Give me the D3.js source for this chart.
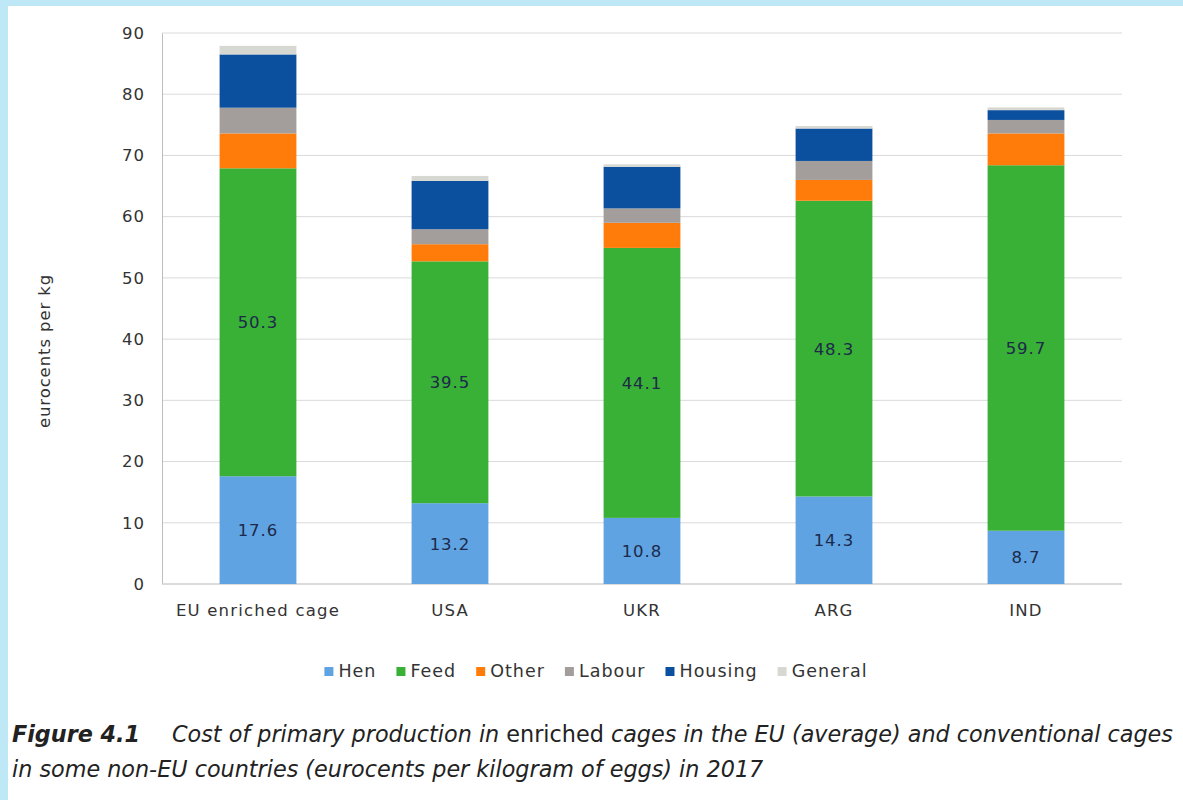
<!DOCTYPE html>
<html>
<head>
<meta charset="utf-8">
<script src="https://cdn.jsdelivr.net/npm/d3@7"></script>
<style>
    html, body { margin: 0; padding: 0; background: #fff; }
    svg { display: block; }
</style>
</head>
<body>
<div id="chart"></div>
<script>
// Data
const countries = ["EU enriched cage", "USA", "UKR", "ARG", "IND"];
const seriesNames = ["Hen", "Feed", "Other", "Labour", "Housing", "General"];
const hen     = [17.6, 13.2, 10.8, 14.3, 8.7];
const feed    = [50.3, 39.5, 44.1, 48.3, 59.7];
const other   = [5.7, 2.8, 4.1, 3.4, 5.2];
const labour  = [4.2, 2.45, 2.35, 3.1, 2.2];
const housing = [8.7, 7.9, 6.8, 5.3, 1.6];
const general = [1.4, 0.8, 0.4, 0.4, 0.45];
const yTicks = [0, 10, 20, 30, 40, 50, 60, 70, 80, 90];

const colors = ["#5fa3e3", "#39b036", "#ff7c0a", "#a39e9c", "#0b4f9f", "#d8d8d2"];

const W = 1183, H = 800;
const font = "'DejaVu Sans', Verdana, sans-serif";
const fs = "16.5px";
const ls = "1px";

const svg = d3.select("#chart").append("svg")
    .attr("width", W)
    .attr("height", H);

// light blue frame
svg.append("rect").attr("x", 0).attr("y", 0).attr("width", W).attr("height", H).attr("fill", "#bfe8f7");
svg.append("rect").attr("x", 8).attr("y", 6).attr("width", W - 8).attr("height", H - 6).attr("fill", "#fff");

// build table
const table = countries.map((c, i) => ({
    country: c,
    Hen: hen[i], Feed: feed[i], Other: other[i],
    Labour: labour[i], Housing: housing[i], General: general[i]
}));
const stacked = d3.stack().keys(seriesNames)(table);

// scales
const x = d3.scaleBand()
    .domain(countries)
    .range([162, 1122])
    .paddingInner(0.6)
    .paddingOuter(0.3);

const y = d3.scaleLinear()
    .domain([0, 90])
    .range([584, 33]);

const color = d3.scaleOrdinal().domain(seriesNames).range(colors);

// gridlines
svg.append("g")
    .selectAll("line")
    .data(yTicks.filter(t => t > 0))
    .enter()
    .append("line")
    .attr("x1", 162).attr("x2", 1122)
    .attr("y1", d => y(d)).attr("y2", d => y(d))
    .attr("stroke", "#dadada")
    .attr("stroke-width", 1);

// y axis
const yAxis = svg.append("g")
    .attr("transform", "translate(162,0)")
    .call(d3.axisLeft(y).tickValues(yTicks).tickSize(0).tickPadding(17));
yAxis.select(".domain").attr("stroke", "#bdbdbd");
yAxis.selectAll("text")
    .style("font-family", font)
    .style("font-size", fs)
    .style("letter-spacing", ls)
    .attr("fill", "#333");

// baseline
svg.append("line")
    .attr("x1", 162).attr("x2", 1122)
    .attr("y1", y(0)).attr("y2", y(0))
    .attr("stroke", "#cfcfcf")
    .attr("stroke-width", 1.5);

// bars
svg.append("g")
    .selectAll("g")
    .data(stacked)
    .enter()
    .append("g")
    .attr("fill", d => color(d.key))
    .selectAll("rect")
    .data(d => d)
    .enter()
    .append("rect")
    .attr("x", d => x(d.data.country))
    .attr("y", d => y(d[1]))
    .attr("width", x.bandwidth())
    .attr("height", d => y(d[0]) - y(d[1]));

// data labels (Hen and Feed)
stacked.filter(s => s.key === "Hen" || s.key === "Feed").forEach(s => {
    svg.append("g")
        .selectAll("text")
        .data(s)
        .enter()
        .append("text")
        .attr("x", d => x(d.data.country) + x.bandwidth() / 2)
        .attr("y", d => y((d[0] + d[1]) / 2) + 6)
        .attr("text-anchor", "middle")
        .style("font-family", font)
        .style("font-size", fs)
        .style("letter-spacing", ls)
        .attr("fill", "#1d2a4a")
        .text(d => d.data[s.key].toFixed(1));
});

// x labels
svg.append("g")
    .selectAll("text")
    .data(countries)
    .enter()
    .append("text")
    .attr("x", d => x(d) + x.bandwidth() / 2)
    .attr("y", 616)
    .attr("text-anchor", "middle")
    .style("font-family", font)
    .style("font-size", fs)
    .style("letter-spacing", "1.2px")
    .attr("fill", "#333")
    .text(d => d);

// y title
svg.append("text")
    .attr("transform", "translate(50,351) rotate(-90)")
    .attr("text-anchor", "middle")
    .style("font-family", font)
    .style("font-size", fs)
    .style("letter-spacing", "0.9px")
    .attr("fill", "#333")
    .text("eurocents per kg");

// legend
const legend = svg.append("g");
let lx = 0;
seriesNames.forEach((name, i) => {
    const item = legend.append("g").attr("transform", `translate(${lx},0)`);
    item.append("rect").attr("x", 0).attr("y", -10).attr("width", 9).attr("height", 9).attr("fill", colors[i]);
    const t = item.append("text")
        .attr("x", 14)
        .attr("y", 0)
        .style("font-family", font)
        .style("font-size", "17.5px")
        .style("letter-spacing", "1px")
        .attr("fill", "#333")
        .text(name);
    lx += 14 + t.node().getComputedTextLength() + 20;
});
lx -= 20;
legend.attr("transform", `translate(${596 - lx / 2},677)`);

// caption
const cap1 = svg.append("text")
    .attr("x", 12)
    .attr("y", 742)
    .style("font-family", font)
    .style("font-size", "22.3px")
    .attr("fill", "#222");
cap1.append("tspan").style("font-weight", "bold").style("font-style", "italic").text("Figure 4.1");
cap1.append("tspan").attr("x", 172).style("font-style", "italic").text("Cost of primary production in ");
cap1.append("tspan").text("enriched");
cap1.append("tspan").style("font-style", "italic").text(" cages in the EU (average) and conventional cages");

svg.append("text")
    .attr("x", 12)
    .attr("y", 777)
    .style("font-family", font)
    .style("font-size", "22.3px")
    .style("font-style", "italic")
    .attr("fill", "#222")
    .text("in some non-EU countries (eurocents per kilogram of eggs) in 2017");
</script>
</body>
</html>
